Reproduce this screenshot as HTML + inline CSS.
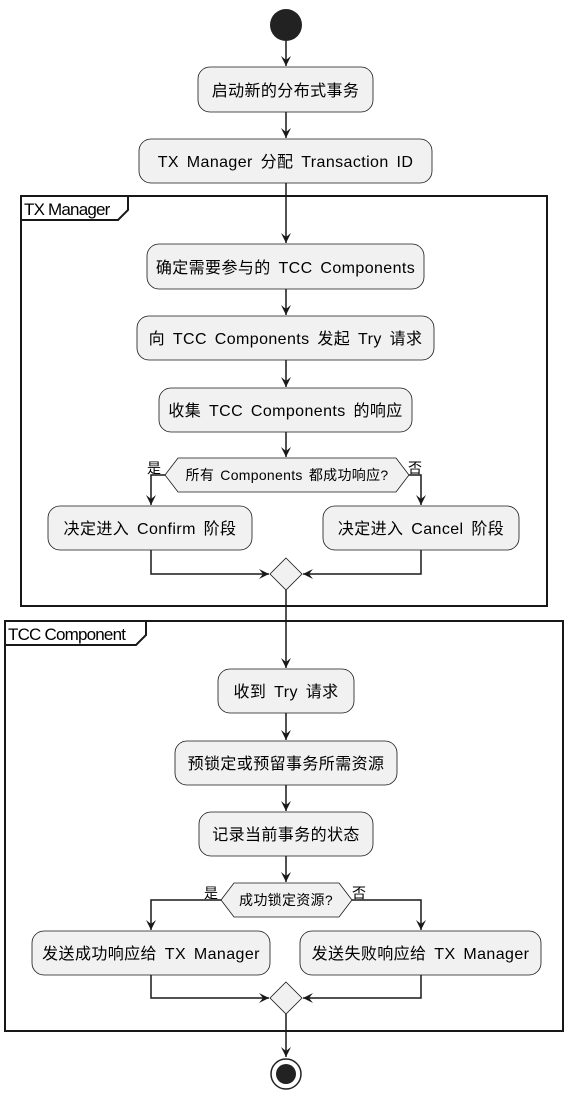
<!DOCTYPE html>
<html><head><meta charset="utf-8"><style>
html,body{margin:0;padding:0;background:#fff;}
svg text{font-family:"Liberation Sans","Noto Sans CJK SC",sans-serif;fill:#000;}
</style></head><body>
<svg width="568" height="1100" viewBox="0 0 568 1100" xmlns="http://www.w3.org/2000/svg">
<defs>
<marker id="a" markerWidth="12" markerHeight="12" refX="10" refY="5" orient="auto" markerUnits="userSpaceOnUse">
<path d="M0,0 L10,5 L0,10 L4,5 Z" fill="#181818"/></marker>
</defs>
<g stroke="#181818" stroke-width="2" fill="none">
<rect x="21" y="196" width="526" height="410"/>
<path d="M21,220 L118,220 L128,210 L128,196"/>
<rect x="5" y="621" width="558" height="410"/>
<path d="M5,645 L136,645 L146,635 L146,621"/>
</g>
<g stroke="#181818" stroke-width="1.5" fill="none">
<line x1="286" y1="41" x2="286" y2="66" marker-end="url(#a)"/>
<line x1="286" y1="112" x2="286" y2="138" marker-end="url(#a)"/>
<line x1="286" y1="183" x2="286" y2="243" marker-end="url(#a)"/>
<line x1="286" y1="289" x2="286" y2="315" marker-end="url(#a)"/>
<line x1="286" y1="360" x2="286" y2="387" marker-end="url(#a)"/>
<line x1="286" y1="432" x2="286" y2="457" marker-end="url(#a)"/>
<polyline points="165,475 151,475 151,505" marker-end="url(#a)"/>
<polyline points="409,475 421,475 421,505" marker-end="url(#a)"/>
<polyline points="151,550 151,574 269,574" marker-end="url(#a)"/>
<polyline points="421,550 421,574 303,574" marker-end="url(#a)"/>
<line x1="286" y1="590" x2="286" y2="668" marker-end="url(#a)"/>
<line x1="286" y1="713" x2="286" y2="740" marker-end="url(#a)"/>
<line x1="286" y1="785" x2="286" y2="811" marker-end="url(#a)"/>
<line x1="286" y1="856" x2="286" y2="882" marker-end="url(#a)"/>
<polyline points="221,900 151,900 151,930" marker-end="url(#a)"/>
<polyline points="352,900 421,900 421,930" marker-end="url(#a)"/>
<polyline points="151,975 151,998 269,998" marker-end="url(#a)"/>
<polyline points="421,975 421,998 303,998" marker-end="url(#a)"/>
<line x1="286" y1="1014" x2="286" y2="1057" marker-end="url(#a)"/>
</g>
<circle cx="286" cy="25" r="16" fill="#222"/>
<circle cx="286" cy="1074" r="15" fill="none" stroke="#222" stroke-width="1.5"/>
<circle cx="286" cy="1074" r="10" fill="#222"/>
<g fill="#f1f1f1" stroke="#181818" stroke-width="0.8">
<rect x="198" y="67" width="175" height="45" rx="12"/>
<rect x="139" y="139" width="293" height="44" rx="12"/>
<rect x="147" y="244" width="277" height="45" rx="12"/>
<rect x="137" y="316" width="297" height="44" rx="12"/>
<rect x="159" y="388" width="253" height="44" rx="12"/>
<polygon points="165,475 178,458 396,458 409,475 396,492 178,492"/>
<rect x="48" y="506" width="204" height="44" rx="12"/>
<rect x="323" y="506" width="196" height="44" rx="12"/>
<polygon points="286,558 302,574 286,590 270,574"/>
<rect x="218" y="669" width="136" height="44" rx="12"/>
<rect x="175" y="741" width="222" height="44" rx="12"/>
<rect x="199" y="812" width="174" height="44" rx="12"/>
<polygon points="221,900 234,883 339,883 352,900 339,917 234,917"/>
<rect x="32" y="931" width="238" height="44" rx="12"/>
<rect x="300" y="931" width="241" height="44" rx="12"/>
<polygon points="286,982 302,998 286,1014 270,998"/>
</g>
<g font-size="16" text-anchor="middle" letter-spacing="0.4" word-spacing="3">
<text x="285.5" y="96">启动新的分布式事务</text>
<text x="285.5" y="167">TX Manager 分配 Transaction ID</text>
<text x="285.5" y="273">确定需要参与的 TCC Components</text>
<text x="285.5" y="344">向 TCC Components 发起 Try 请求</text>
<text x="285.5" y="416">收集 TCC Components 的响应</text>
<text x="150" y="534">决定进入 Confirm 阶段</text>
<text x="421" y="534">决定进入 Cancel 阶段</text>
<text x="286" y="697">收到 Try 请求</text>
<text x="286" y="769">预锁定或预留事务所需资源</text>
<text x="286" y="840">记录当前事务的状态</text>
<text x="151" y="959">发送成功响应给 TX Manager</text>
<text x="420.5" y="959">发送失败响应给 TX Manager</text>
</g>
<g font-size="14" text-anchor="middle" letter-spacing="0.3" word-spacing="2">
<text x="287" y="480">所有 Components 都成功响应?</text>
<text x="286" y="905">成功锁定资源?</text>
</g>
<g font-size="14">
<text x="147" y="473">是</text>
<text x="408" y="473">否</text>
<text x="204" y="898">是</text>
<text x="352" y="898">否</text>
</g>
<g font-size="17" letter-spacing="-0.8">
<text x="24" y="215">TX Manager</text>
<text x="8" y="640">TCC Component</text>
</g>
</svg>
</body></html>
